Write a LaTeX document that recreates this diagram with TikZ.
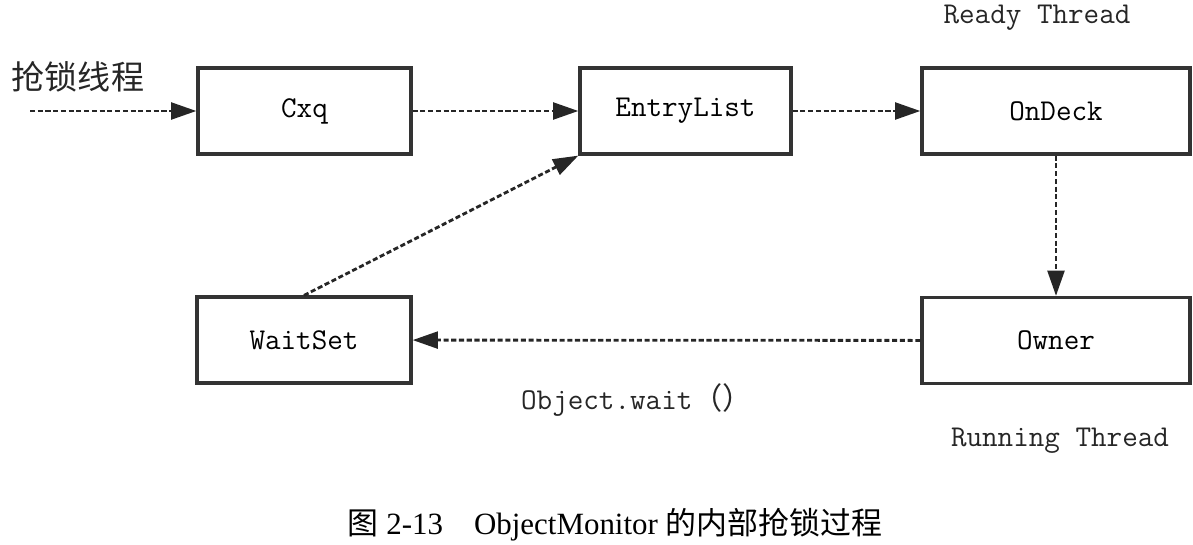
\documentclass[tikz,border=0pt]{standalone}
\usepackage{fontspec}
\setmainfont{Liberation Serif}
\newfontfamily\cjk{Noto Sans CJK SC}
\usetikzlibrary{arrows.meta}

\tikzset{
    box/.style={draw=black!80, line width=2.3pt, inner sep=0pt,
        minimum height=2.15cm, font=\fontsize{21.5}{24}\selectfont\ttfamily},
    flow/.style={draw=black!85, line width=2pt, dash pattern=on 3.6pt off 1.9pt,
        -{Triangle[length=18pt, width=12pt]}},
    note/.style={text=black!85, font=\fontsize{21.5}{24}\selectfont\ttfamily}
}

\begin{document}
\begin{tikzpicture}[x=0.025cm, y=-0.025cm]
    \useasboundingbox (0, 0) rectangle (1193, 545);

    % Top row of queues
    \node[box, minimum width=5.325cm] (cxq) at (304.5, 111) {Cxq};
    \node[box, minimum width=5.275cm] (entry) at (685.5, 111) {EntryList};
    \node[box, minimum width=6.7cm] (ondeck) at (1056, 111) {OnDeck};

    % Bottom row
    \node[box, minimum width=5.35cm] (waitset) at (304, 340) {WaitSet};
    \node[box, minimum width=6.7cm] (owner) at (1056, 340.5) {Owner};

    % Labels round the boxes
    \node[text=black!85, font=\fontsize{23.5}{26}\selectfont\cjk] (grab) at (78, 77) {抢锁线程};
    \node[note] (ready) at (1037, 18) {Ready Thread};
    \node[note] (running) at (1060, 441) {Running Thread};
    \node[note] (wait) at (637, 400) {Object.wait{\cjk （）}};

    % Flow of the threads
    \coordinate (start) at (30, 111);
    \draw[flow] (start) -- (cxq);
    \draw[flow] (cxq) -- (entry);
    \draw[flow] (entry) -- (ondeck);
    \draw[flow] (ondeck) -- (owner);
    \draw[flow] (owner) -- (waitset);
    \draw[flow] (waitset.north) -- (entry.south west);

    % Caption
    \node[font=\fontsize{22}{26}\selectfont] (caption) at (615, 525)
        {{\cjk 图} 2-13\quad ObjectMonitor {\cjk 的内部抢锁过程}};
\end{tikzpicture}
\end{document}
